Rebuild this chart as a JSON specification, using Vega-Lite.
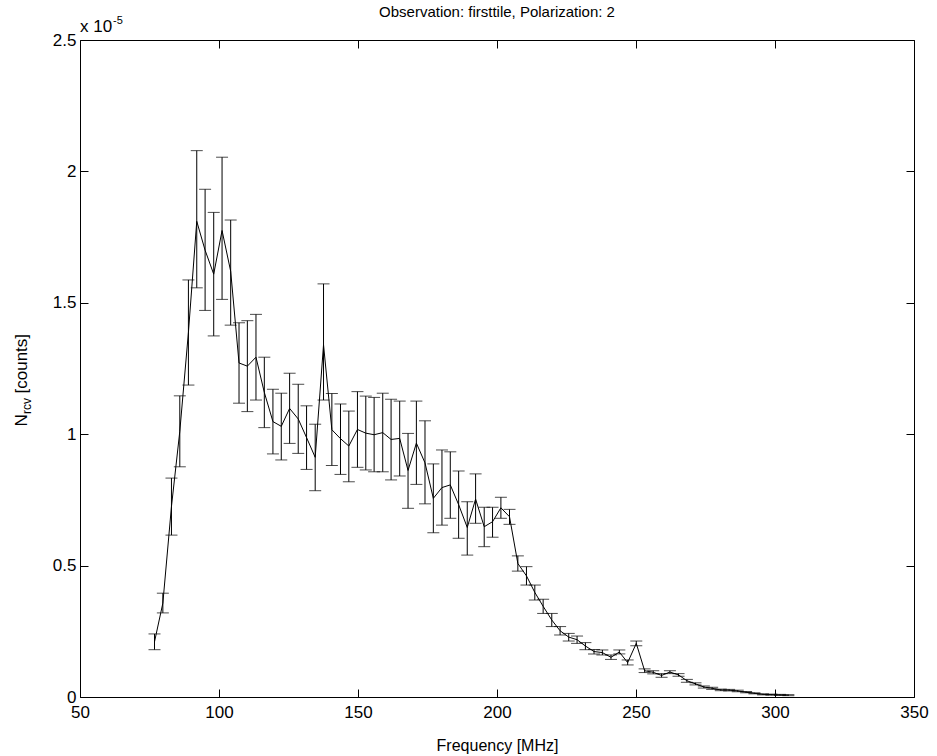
{
  "$schema": "https://vega.github.io/schema/vega-lite/v6.json",
  "width": 834,
  "height": 657,
  "autosize": "none",
  "padding": {"left": 80, "top": 40, "right": 23, "bottom": 59},
  "background": "white",
  "config": {
    "font": "Liberation Sans",
    "view": {"stroke": "black", "strokeWidth": 1},
    "axis": {"tickColor": "black", "tickWidth": 1, "labelColor": "black", "titleColor": "black", "domain": false, "grid": false, "labelFlush": false, "labelOverlap": false}
  },
  "title": {"text": "Observation: firsttile, Polarization: 2", "fontSize": 15, "fontWeight": "normal", "color": "black", "anchor": "middle", "frame": "group", "offset": -20, "baseline": "bottom", "font": "Liberation Sans"},
  "data": {"values": [
    {"f": 76.8, "v": 0.21, "lo": 0.18, "hi": 0.24},
    {"f": 79.8, "v": 0.357, "lo": 0.32, "hi": 0.395},
    {"f": 82.9, "v": 0.725, "lo": 0.616, "hi": 0.833},
    {"f": 85.9, "v": 1.011, "lo": 0.876, "hi": 1.146},
    {"f": 89.0, "v": 1.387, "lo": 1.187, "hi": 1.587},
    {"f": 92.0, "v": 1.81, "lo": 1.557, "hi": 2.079},
    {"f": 95.0, "v": 1.70, "lo": 1.471, "hi": 1.932},
    {"f": 98.1, "v": 1.609, "lo": 1.374, "hi": 1.844},
    {"f": 101.1, "v": 1.775, "lo": 1.513, "hi": 2.054},
    {"f": 104.2, "v": 1.62, "lo": 1.415, "hi": 1.815},
    {"f": 107.2, "v": 1.271, "lo": 1.118, "hi": 1.424},
    {"f": 110.2, "v": 1.259, "lo": 1.086, "hi": 1.432},
    {"f": 113.3, "v": 1.293, "lo": 1.13, "hi": 1.456},
    {"f": 116.3, "v": 1.159, "lo": 1.025, "hi": 1.293},
    {"f": 119.4, "v": 1.048, "lo": 0.925, "hi": 1.171},
    {"f": 122.4, "v": 1.03, "lo": 0.902, "hi": 1.156},
    {"f": 125.4, "v": 1.098, "lo": 0.965, "hi": 1.232},
    {"f": 128.5, "v": 1.058, "lo": 0.927, "hi": 1.19},
    {"f": 131.5, "v": 0.987, "lo": 0.866, "hi": 1.108},
    {"f": 134.6, "v": 0.912, "lo": 0.785, "hi": 1.038},
    {"f": 137.6, "v": 1.34, "lo": 1.13, "hi": 1.572},
    {"f": 140.6, "v": 1.017, "lo": 0.881, "hi": 1.155},
    {"f": 143.7, "v": 0.983, "lo": 0.847, "hi": 1.115},
    {"f": 146.7, "v": 0.955, "lo": 0.819, "hi": 1.088},
    {"f": 149.8, "v": 1.018, "lo": 0.874, "hi": 1.162},
    {"f": 152.8, "v": 1.004, "lo": 0.864, "hi": 1.145},
    {"f": 155.8, "v": 0.998, "lo": 0.857, "hi": 1.14},
    {"f": 158.9, "v": 1.006, "lo": 0.857, "hi": 1.156},
    {"f": 161.9, "v": 0.98, "lo": 0.826, "hi": 1.133},
    {"f": 165.0, "v": 0.984, "lo": 0.841, "hi": 1.126},
    {"f": 168.0, "v": 0.862, "lo": 0.718, "hi": 1.003},
    {"f": 171.0, "v": 0.966, "lo": 0.809, "hi": 1.126},
    {"f": 174.1, "v": 0.891, "lo": 0.735, "hi": 1.051},
    {"f": 177.1, "v": 0.756, "lo": 0.625, "hi": 0.887},
    {"f": 180.2, "v": 0.797, "lo": 0.654, "hi": 0.94},
    {"f": 183.2, "v": 0.807, "lo": 0.68, "hi": 0.933},
    {"f": 186.2, "v": 0.732, "lo": 0.604, "hi": 0.86},
    {"f": 189.3, "v": 0.645, "lo": 0.54, "hi": 0.743},
    {"f": 192.3, "v": 0.753, "lo": 0.661, "hi": 0.849},
    {"f": 195.4, "v": 0.648, "lo": 0.572, "hi": 0.722},
    {"f": 198.4, "v": 0.667, "lo": 0.608, "hi": 0.722},
    {"f": 201.4, "v": 0.72, "lo": 0.68, "hi": 0.76},
    {"f": 204.5, "v": 0.686, "lo": 0.657, "hi": 0.714},
    {"f": 207.5, "v": 0.508, "lo": 0.479, "hi": 0.537},
    {"f": 210.6, "v": 0.461, "lo": 0.426, "hi": 0.496},
    {"f": 213.6, "v": 0.398, "lo": 0.369, "hi": 0.426},
    {"f": 216.6, "v": 0.345, "lo": 0.318, "hi": 0.372},
    {"f": 219.7, "v": 0.293, "lo": 0.268, "hi": 0.318},
    {"f": 222.7, "v": 0.252, "lo": 0.236, "hi": 0.268},
    {"f": 225.8, "v": 0.228, "lo": 0.213, "hi": 0.242},
    {"f": 228.8, "v": 0.218, "lo": 0.204, "hi": 0.232},
    {"f": 231.8, "v": 0.194, "lo": 0.18, "hi": 0.207},
    {"f": 234.9, "v": 0.173, "lo": 0.164, "hi": 0.181},
    {"f": 237.9, "v": 0.169, "lo": 0.16, "hi": 0.179},
    {"f": 241.0, "v": 0.151, "lo": 0.143, "hi": 0.16},
    {"f": 244.0, "v": 0.171, "lo": 0.164, "hi": 0.179},
    {"f": 247.0, "v": 0.131, "lo": 0.122, "hi": 0.141},
    {"f": 250.1, "v": 0.204, "lo": 0.195, "hi": 0.213},
    {"f": 253.1, "v": 0.1, "lo": 0.093, "hi": 0.107},
    {"f": 256.2, "v": 0.094, "lo": 0.088, "hi": 0.1},
    {"f": 259.2, "v": 0.082, "lo": 0.075, "hi": 0.089},
    {"f": 262.2, "v": 0.095, "lo": 0.089, "hi": 0.1},
    {"f": 265.3, "v": 0.084, "lo": 0.079, "hi": 0.089},
    {"f": 268.3, "v": 0.062, "lo": 0.056, "hi": 0.067},
    {"f": 271.4, "v": 0.05, "lo": 0.046, "hi": 0.054},
    {"f": 274.4, "v": 0.038, "lo": 0.034, "hi": 0.042},
    {"f": 277.4, "v": 0.033, "lo": 0.029, "hi": 0.037},
    {"f": 280.5, "v": 0.027, "lo": 0.024, "hi": 0.03},
    {"f": 283.5, "v": 0.026, "lo": 0.023, "hi": 0.029},
    {"f": 286.6, "v": 0.023, "lo": 0.02, "hi": 0.026},
    {"f": 289.6, "v": 0.018, "lo": 0.016, "hi": 0.021},
    {"f": 292.6, "v": 0.014, "lo": 0.012, "hi": 0.016},
    {"f": 295.7, "v": 0.01, "lo": 0.008, "hi": 0.012},
    {"f": 298.7, "v": 0.009, "lo": 0.007, "hi": 0.011},
    {"f": 301.8, "v": 0.008, "lo": 0.006, "hi": 0.01},
    {"f": 304.8, "v": 0.007, "lo": 0.005, "hi": 0.009}
  ]},
  "layer": [
    {
      "mark": {"type": "rule", "color": "black", "strokeWidth": 1},
      "encoding": {
        "x": {"field": "f", "type": "quantitative", "scale": {"domain": [50, 350], "nice": false, "zero": false},
              "axis": {"orient": "bottom", "values": [50, 100, 150, 200, 250, 300, 350], "tickSize": -8, "labelPadding": 15, "labelFontSize": 17, "title": "Frequency [MHz]", "titleFontSize": 16, "titleFontWeight": "normal", "titleY": 53, "titleBaseline": "alphabetic"}},
        "y": {"field": "lo", "type": "quantitative", "scale": {"domain": [0, 2.5], "nice": false},
              "axis": {"orient": "left", "values": [0, 0.5, 1, 1.5, 2, 2.5], "format": ".1~f", "tickSize": -8, "labelPadding": 12, "labelFontSize": 17, "title": null}},
        "y2": {"field": "hi"}
      }
    },
    {
      "mark": {"type": "tick", "orient": "horizontal", "size": 12, "thickness": 1, "color": "black"},
      "encoding": {
        "x": {"field": "f", "type": "quantitative", "axis": null},
        "y": {"field": "lo", "type": "quantitative", "axis": null}
      }
    },
    {
      "mark": {"type": "tick", "orient": "horizontal", "size": 12, "thickness": 1, "color": "black"},
      "encoding": {
        "x": {"field": "f", "type": "quantitative", "axis": null},
        "y": {"field": "hi", "type": "quantitative", "axis": null}
      }
    },
    {
      "mark": {"type": "line", "color": "black", "strokeWidth": 1},
      "encoding": {
        "x": {"field": "f", "type": "quantitative", "axis": {"orient": "top", "values": [50, 100, 150, 200, 250, 300, 350], "tickSize": -8, "labels": false, "title": null}},
        "y": {"field": "v", "type": "quantitative", "axis": {"orient": "right", "values": [0, 0.5, 1, 1.5, 2, 2.5], "tickSize": -8, "labels": false, "title": null}}
      }
    },
    {
      "data": {"values": [{"t": "x 10"}]},
      "mark": {"type": "text", "align": "left", "baseline": "alphabetic", "fontSize": 17, "dy": -8, "color": "black"},
      "encoding": {"x": {"datum": 50, "type": "quantitative", "axis": null}, "y": {"datum": 2.5, "type": "quantitative", "axis": null}, "text": {"field": "t"}}
    },
    {
      "data": {"values": [{"t": "-5"}]},
      "mark": {"type": "text", "align": "left", "baseline": "alphabetic", "fontSize": 11, "dx": 33, "dy": -16, "color": "black"},
      "encoding": {"x": {"datum": 50, "type": "quantitative", "axis": null}, "y": {"datum": 2.5, "type": "quantitative", "axis": null}, "text": {"field": "t"}}
    },
    {
      "data": {"values": [{"t": "N"}]},
      "mark": {"type": "text", "align": "left", "baseline": "alphabetic", "fontSize": 17, "angle": 270, "dx": -58, "dy": -53, "color": "black"},
      "encoding": {"x": {"datum": 50, "type": "quantitative", "axis": null}, "y": {"datum": 1.25, "type": "quantitative", "axis": null}, "text": {"field": "t"}}
    },
    {
      "data": {"values": [{"t": "rcv"}]},
      "mark": {"type": "text", "align": "left", "baseline": "alphabetic", "fontSize": 12, "angle": 270, "dx": -45.5, "dy": -49, "color": "black"},
      "encoding": {"x": {"datum": 50, "type": "quantitative", "axis": null}, "y": {"datum": 1.25, "type": "quantitative", "axis": null}, "text": {"field": "t"}}
    },
    {
      "data": {"values": [{"t": "[counts]"}]},
      "mark": {"type": "text", "align": "left", "baseline": "alphabetic", "fontSize": 17, "angle": 270, "dx": -25, "dy": -53, "color": "black"},
      "encoding": {"x": {"datum": 50, "type": "quantitative", "axis": null}, "y": {"datum": 1.25, "type": "quantitative", "axis": null}, "text": {"field": "t"}}
    }
  ],
  "resolve": {"axis": {"x": "independent", "y": "independent"}}
}
